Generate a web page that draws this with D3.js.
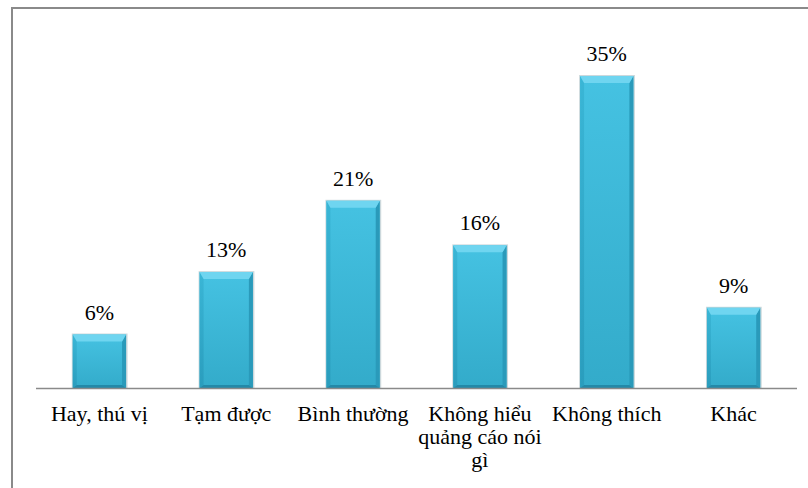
<!DOCTYPE html>
<html>
<head>
<meta charset="utf-8">
<script src="https://cdn.jsdelivr.net/npm/d3@7"></script>
<style>
  html, body { margin: 0; padding: 0; background: #fff; }
  svg { display: block; }
</style>
</head>
<body>
<svg id="chart" width="808" height="488"></svg>
<script>
// Chart data
const categories = ["Hay, thú vị", "Tạm được", "Bình thường", "Không hiểu quảng cáo nói gì", "Không thích", "Khác"];
const values = [6, 13, 21, 16, 35, 9];
const valueLabels = ["6%", "13%", "21%", "16%", "35%", "9%"];

const W = 808, H = 488;
const FONT = "'Liberation Serif', 'Times New Roman', Tinos, serif";
const FS = 22;
const svg = d3.select("#chart");

// Outer frame (only top and left edges fall inside the view)
svg.append("path")
  .attr("d", `M12,${H} L12,8 L${W},8`)
  .attr("fill", "none")
  .attr("stroke", "#8a8a8a")
  .attr("stroke-width", 2);

const plot = { left: 36, right: 797, baseline: 388 };

const x = d3.scaleBand()
  .domain(categories)
  .range([plot.left, plot.right])
  .paddingInner(0.58)
  .paddingOuter(0.29);

const y = d3.scaleLinear()
  .domain([0, 35])
  .range([plot.baseline, 76]);

// Gradients for the bevelled bars
const defs = svg.append("defs");
const body = defs.append("linearGradient").attr("id", "barBody")
  .attr("x1", 0).attr("y1", 0).attr("x2", 0).attr("y2", 1);
body.append("stop").attr("offset", "0%").attr("stop-color", "#45c2e2");
body.append("stop").attr("offset", "100%").attr("stop-color", "#33abca");

const side = defs.append("linearGradient").attr("id", "barSide")
  .attr("x1", 0).attr("y1", 0).attr("x2", 0).attr("y2", 1);
side.append("stop").attr("offset", "0%").attr("stop-color", "#3ab6d6");
side.append("stop").attr("offset", "100%").attr("stop-color", "#2a9dbd");

const bw = x.bandwidth();
const bev = 7;

const bars = svg.append("g").selectAll("g.bar")
  .data(categories.map((c, i) => ({ c, v: values[i], label: valueLabels[i] })))
  .join("g")
  .attr("class", "bar");

// Soft shadow outline
bars.append("rect")
  .attr("x", d => x(d.c) - 1)
  .attr("y", d => y(d.v) - 1)
  .attr("width", bw + 2.5)
  .attr("height", d => plot.baseline - y(d.v) + 1)
  .attr("fill", "#ccd8dc");

// Main body
bars.append("rect")
  .attr("x", d => x(d.c))
  .attr("y", d => y(d.v))
  .attr("width", bw)
  .attr("height", d => plot.baseline - y(d.v))
  .attr("fill", "url(#barBody)");

// Left bevel edge
bars.append("path")
  .attr("d", d => {
    const x0 = x(d.c), y0 = y(d.v), y1 = plot.baseline;
    return `M${x0},${y0} L${x0 + 4},${y0 + bev} L${x0 + 4},${y1 - 3} L${x0},${y1} Z`;
  })
  .attr("fill", "url(#barSide)");

// Right bevel edge
bars.append("path")
  .attr("d", d => {
    const x1 = x(d.c) + bw, y0 = y(d.v), y1 = plot.baseline;
    return `M${x1},${y0} L${x1 - 4},${y0 + bev} L${x1 - 4},${y1 - 3} L${x1},${y1} Z`;
  })
  .attr("fill", "#2a9aba");

// Bottom bevel edge
bars.append("path")
  .attr("d", d => {
    const x0 = x(d.c), x1 = x0 + bw, y1 = plot.baseline;
    return `M${x0},${y1} L${x0 + 4},${y1 - 3} L${x1 - 4},${y1 - 3} L${x1},${y1} Z`;
  })
  .attr("fill", "#2389a8");

// Top bevel (highlight)
bars.append("path")
  .attr("d", d => {
    const x0 = x(d.c), x1 = x0 + bw, y0 = y(d.v);
    return `M${x0},${y0} L${x1},${y0} L${x1 - 4},${y0 + bev} L${x0 + 4},${y0 + bev} Z`;
  })
  .attr("fill", "#6fd5f0");

// Value labels
bars.append("text")
  .attr("x", d => x(d.c) + bw / 2)
  .attr("y", d => y(d.v) - 15)
  .attr("text-anchor", "middle")
  .style("font-family", FONT)
  .style("font-size", FS + "px")
  .attr("fill", "#000")
  .text(d => d.label);

// Baseline axis
svg.append("line")
  .attr("x1", plot.left).attr("x2", plot.right)
  .attr("y1", plot.baseline + 0.5).attr("y2", plot.baseline + 0.5)
  .attr("stroke", "#8a8a8a")
  .attr("stroke-width", 1.5);

// Category labels, wrapped to the band width
const maxW = 132;
const catG = svg.append("g");
categories.forEach(c => {
  const cx = x(c) + bw / 2;
  const t = catG.append("text")
    .attr("x", cx)
    .attr("y", 421)
    .attr("text-anchor", "middle")
    .style("font-family", FONT)
    .style("font-size", FS + "px")
    .attr("fill", "#000");
  const words = c.split(" ");
  let line = [];
  let tspan = t.append("tspan").attr("x", cx).attr("dy", 0);
  words.forEach(w => {
    line.push(w);
    tspan.text(line.join(" "));
    if (tspan.node().getComputedTextLength() > maxW && line.length > 1) {
      line.pop();
      tspan.text(line.join(" "));
      line = [w];
      tspan = t.append("tspan").attr("x", cx).attr("dy", 23).text(w);
    }
  });
});
</script>
</body>
</html>
